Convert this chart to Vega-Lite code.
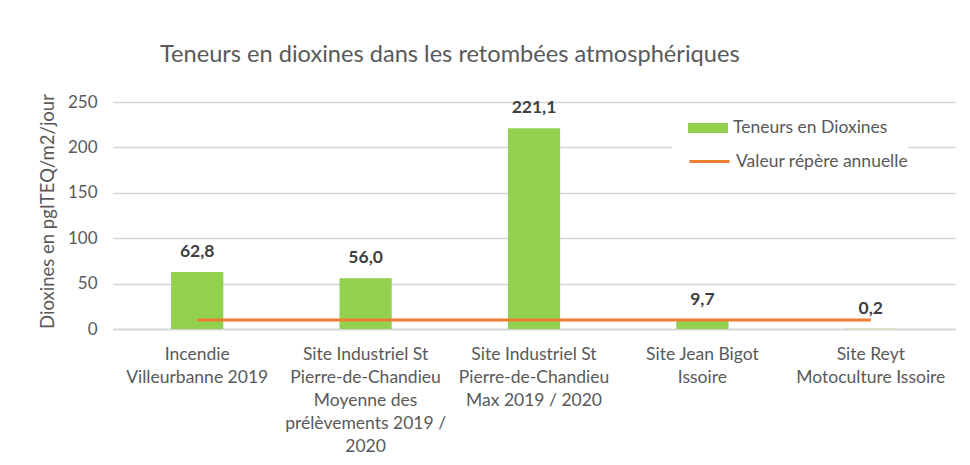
{
  "$schema": "https://vega.github.io/schema/vega-lite/v6.json",
  "width": 842,
  "height": 236,
  "autosize": "none",
  "padding": {"left": 113, "top": 93, "right": 15, "bottom": 136},
  "background": "white",
  "title": {
    "text": "Teneurs en dioxines dans les retombées atmosphériques",
    "anchor": "start",
    "frame": "group",
    "dx": 47,
    "offset": 26,
    "font": "Lato",
    "fontSize": 23.6,
    "fontWeight": "normal",
    "color": "#595959"
  },
  "config": {
    "view": {"stroke": null},
    "locale": {"number": {"decimal": ",", "thousands": " ", "grouping": [3], "currency": ["", " €"]}},
    "font": "Lato"
  },
  "data": {
    "values": [
      {"site": "Incendie|Villeurbanne 2019", "dioxines": 62.8, "ref": 10, "serie": "Teneurs en Dioxines", "refname": "Valeur répère annuelle"},
      {"site": "Site Industriel St|Pierre-de-Chandieu|Moyenne des|prélèvements 2019 /|2020", "dioxines": 56.0, "ref": 10, "serie": "Teneurs en Dioxines", "refname": "Valeur répère annuelle"},
      {"site": "Site Industriel St|Pierre-de-Chandieu|Max 2019 / 2020", "dioxines": 221.1, "ref": 10, "serie": "Teneurs en Dioxines", "refname": "Valeur répère annuelle"},
      {"site": "Site Jean Bigot|Issoire", "dioxines": 9.7, "ref": 10, "serie": "Teneurs en Dioxines", "refname": "Valeur répère annuelle"},
      {"site": "Site Reyt|Motoculture Issoire", "dioxines": 0.2, "ref": 10, "serie": "Teneurs en Dioxines", "refname": "Valeur répère annuelle"}
    ]
  },
  "encoding": {
    "x": {
      "field": "site",
      "type": "nominal",
      "sort": null,
      "scale": {"paddingInner": 0.69, "paddingOuter": 0.345},
      "axis": {
        "title": null,
        "labelAngle": 0,
        "labelExpr": "split(datum.label, '|')",
        "labelFont": "Lato",
        "labelFontSize": 17.5,
        "labelColor": "#595959",
        "labelLineHeight": 23,
        "labelBaseline": "top",
        "labelPadding": 16,
        "labelLimit": 300,
        "ticks": false,
        "domainColor": "#d4d4d4",
        "domainWidth": 1.5
      }
    }
  },
  "layer": [
    {
      "mark": {"type": "bar", "color": "#92d050"},
      "encoding": {
        "y": {
          "field": "dioxines",
          "type": "quantitative",
          "scale": {"domain": [0, 250]},
          "axis": {
            "title": "Dioxines en pgITEQ/m2/jour",
            "titleFont": "Lato",
            "titleFontSize": 18.5,
            "titleFontWeight": "normal",
            "titleColor": "#595959",
            "titlePadding": 10,
            "values": [0, 50, 100, 150, 200, 250],
            "labelFont": "Lato",
            "labelFontSize": 17,
            "labelColor": "#595959",
            "labelPadding": 16,
            "ticks": false,
            "domain": false,
            "gridColor": "#d4d4d4",
            "gridWidth": 1.5
          }
        },
        "fill": {
          "field": "serie",
          "type": "nominal",
          "scale": {"range": ["#92d050"]},
          "legend": {
            "title": null,
            "orient": "none",
            "legendX": 559,
            "legendY": 15,
            "fillColor": "white",
            "padding": 0,
            "symbolType": "M-1,-0.25H1V0.25H-1Z",
            "symbolSize": 1600,
            "symbolStrokeWidth": 0,
            "labelFont": "Lato",
            "labelFontSize": 17.5,
            "labelColor": "#595959",
            "labelOffset": 5,
            "symbolOffset": 16,
            "labelLimit": 300
          }
        }
      }
    },
    {
      "mark": {"type": "text", "fontWeight": "bold", "fontSize": 17.5, "font": "Lato", "color": "#404040", "dy": -20},
      "encoding": {
        "y": {"field": "dioxines", "type": "quantitative"},
        "text": {"field": "dioxines", "type": "quantitative", "format": ".1f"}
      }
    },
    {
      "mark": {"type": "line", "strokeWidth": 3, "color": "#ed7d31"},
      "encoding": {
        "y": {"field": "ref", "type": "quantitative"},
        "stroke": {
          "field": "refname",
          "type": "nominal",
          "scale": {"range": ["#ed7d31"]},
          "legend": {
            "title": null,
            "orient": "none",
            "legendX": 559,
            "legendY": 47,
            "fillColor": "white",
            "padding": 0,
            "symbolType": "stroke",
            "symbolSize": 1600,
            "symbolStrokeWidth": 3,
            "labelFont": "Lato",
            "labelFontSize": 17.5,
            "labelColor": "#595959",
            "labelOffset": 5,
            "symbolOffset": 16,
            "labelLimit": 300
          }
        }
      }
    }
  ]
}
